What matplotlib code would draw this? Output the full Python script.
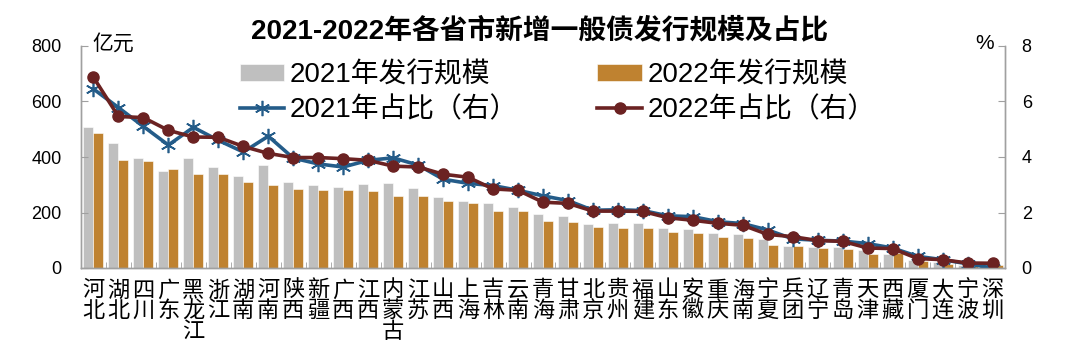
import matplotlib
matplotlib.use("Agg")
import matplotlib.pyplot as plt
import numpy as np
from matplotlib.ticker import FixedLocator

plt.rcParams['font.family'] = ['Liberation Sans', 'Noto Sans CJK SC', 'DejaVu Sans']

categories = ["河北", "湖北", "四川", "广东", "黑龙江", "浙江", "湖南", "河南", "陕西", "新疆",
              "广西", "江西", "内蒙古", "江苏", "山西", "上海", "吉林", "云南", "青海", "甘肃",
              "北京", "贵州", "福建", "山东", "安徽", "重庆", "海南", "宁夏", "兵团", "辽宁",
              "青岛", "天津", "西藏", "厦门", "大连", "宁波", "深圳"]

scale_2021 = [508, 450, 397, 351, 397, 364, 331, 372, 311, 299,
              291, 302, 306, 290, 257, 240, 236, 220, 195, 187,
              159, 163, 163, 145, 141, 126, 121, 104, 78, 75,
              77, 66, 51, 30, 20, 12, 5]
scale_2022 = [488, 389, 385, 355, 339, 339, 311, 298, 283, 282,
              282, 278, 261, 261, 240, 233, 204, 204, 170, 166,
              149, 145, 145, 130, 125, 113, 108, 84, 79, 71,
              68, 51, 55, 24, 15, 9, 10]
share_2021 = [6.45, 5.78, 5.10, 4.43, 5.07, 4.60, 4.18, 4.75, 3.96, 3.75,
              3.64, 3.88, 3.97, 3.71, 3.20, 3.05, 2.97, 2.80, 2.60, 2.43,
              2.08, 2.10, 2.07, 1.88, 1.85, 1.67, 1.60, 1.37, 1.05, 1.00,
              0.97, 0.88, 0.72, 0.42, 0.30, 0.15, 0.00]
share_2022 = [6.87, 5.46, 5.42, 4.96, 4.72, 4.71, 4.38, 4.13, 3.98, 3.98,
              3.94, 3.88, 3.67, 3.64, 3.38, 3.27, 2.85, 2.80, 2.37, 2.33,
              2.05, 2.05, 2.04, 1.81, 1.72, 1.61, 1.54, 1.21, 1.13, 0.99,
              0.96, 0.72, 0.70, 0.34, 0.30, 0.18, 0.17]
left_ticks = [0, 200, 400, 600, 800]
right_ticks = [0, 2, 4, 6, 8]

GREY = "#BFBFBF"
ORANGE = "#BF8230"
BLUE = "#245C89"
RED = "#6B2222"
SPINE = "#A0A0A0"

fig = plt.figure(figsize=(10.8, 3.58), dpi=100)
ax = fig.add_axes([81/1080, 1-268/358, (1005-81)/1080, (268-46)/358])
ax2 = ax.twinx()

x = np.arange(len(categories))
w = 0.4
b1 = ax.bar(x - 0.2, scale_2021, width=w, color=GREY, edgecolor="white", linewidth=0.4,
            label="2021年发行规模")
b2 = ax.bar(x + 0.2, scale_2022, width=w, color=ORANGE, edgecolor="white", linewidth=0.4,
            label="2022年发行规模")
l1, = ax2.plot(x, share_2021, color=BLUE, lw=2.6, marker=(6, 2, 0), markersize=11,
               markeredgewidth=1.2, markeredgecolor=BLUE, label="2021年占比（右）")
l2, = ax2.plot(x, share_2022, color=RED, lw=2.6, marker="o", markersize=8,
               markeredgecolor=RED, label="2022年占比（右）")

ax.set_xlim(-0.5, len(categories) - 0.5)
ax.set_ylim(0, 800)
ax2.set_ylim(0, 8)
ax.yaxis.set_major_locator(FixedLocator(left_ticks))
ax2.yaxis.set_major_locator(FixedLocator(right_ticks))

ax.set_xticks(x)
ax.set_xticklabels(["\n".join(c) for c in categories], fontsize=16, linespacing=0.98,
                   va="top")
ax.xaxis.set_minor_locator(FixedLocator(np.arange(-0.5, len(categories), 1.0)))
ax.tick_params(axis="x", which="major", length=0, pad=9)
ax.tick_params(axis="x", which="minor", length=4, direction="in", color=SPINE)
ax.tick_params(axis="y", length=5, direction="in", color=SPINE, labelsize=13, pad=14)
ax2.tick_params(axis="y", length=5, direction="in", color=SPINE, labelsize=13, pad=12)

for a in (ax, ax2):
    a.spines["top"].set_visible(False)
    for s in ("left", "right", "bottom"):
        a.spines[s].set_color(SPINE)
        a.spines[s].set_linewidth(1.0)

ax.text(0.012, 1.012, "亿元", transform=ax.transAxes, fontsize=15, ha="left", va="center")
ax.text(0.988, 1.012, "%", transform=ax.transAxes, fontsize=15, ha="right", va="center")

fig.text(540/1080, 1-31/358, "2021-2022年各省市新增一般债发行规模及占比", fontsize=20,
         fontweight="bold", ha="center", va="center")

leg = ax2.legend([b1, l1, b2, l2],
                 ["2021年发行规模", "2021年占比（右）", "2022年发行规模", "2022年占比（右）"],
                 ncol=2, frameon=False, fontsize=20, loc="upper left",
                 bbox_to_anchor=(240/1080, 1-62/358), bbox_transform=fig.transFigure,
                 handlelength=1.6, handleheight=0.55, handletextpad=0.2, columnspacing=2.85,
                 labelspacing=0.32, borderaxespad=0, borderpad=0)

fig.savefig("out.png", dpi=100)
